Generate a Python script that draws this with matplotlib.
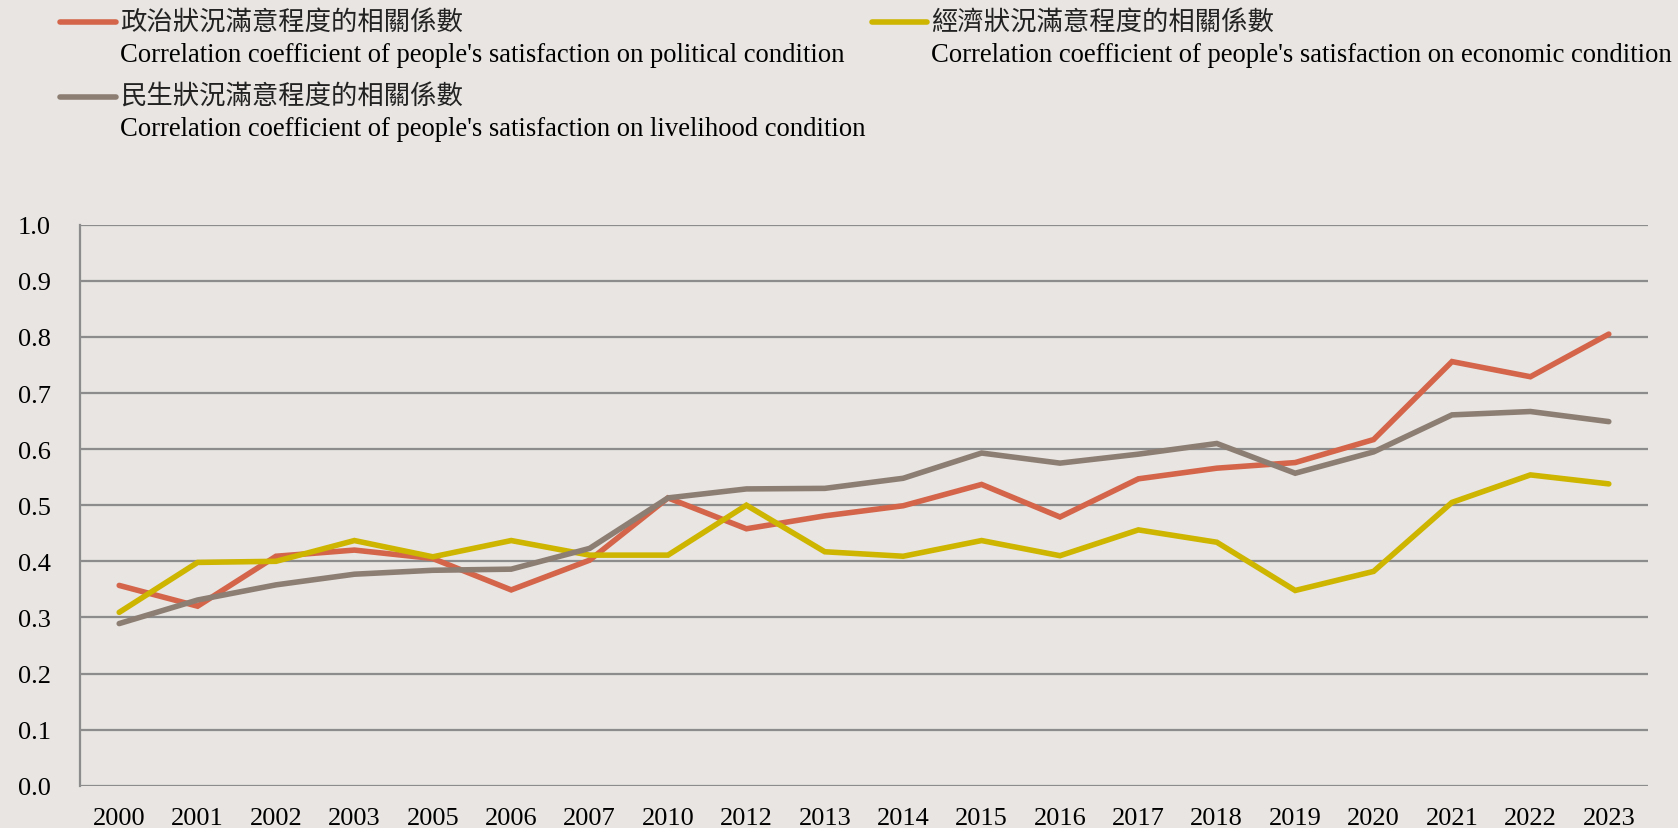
import matplotlib
matplotlib.use('Agg')
import matplotlib.pyplot as plt
from matplotlib.lines import Line2D

# data
years = ['2000', '2001', '2002', '2003', '2005', '2006', '2007', '2010', '2012', '2013',
         '2014', '2015', '2016', '2017', '2018', '2019', '2020', '2021', '2022', '2023']
political = [0.357, 0.320, 0.409, 0.420, 0.405, 0.349, 0.402, 0.513, 0.458, 0.481,
             0.499, 0.537, 0.479, 0.547, 0.566, 0.576, 0.617, 0.756, 0.729, 0.805]
economic = [0.309, 0.398, 0.400, 0.437, 0.408, 0.437, 0.411, 0.411, 0.500, 0.417,
            0.409, 0.437, 0.410, 0.456, 0.434, 0.348, 0.382, 0.505, 0.554, 0.538]
livelihood = [0.289, 0.331, 0.358, 0.377, 0.384, 0.386, 0.423, 0.513, 0.529, 0.530,
              0.548, 0.593, 0.575, 0.591, 0.610, 0.557, 0.595, 0.661, 0.667, 0.649]

labels_zh = ['政治狀況滿意程度的相關係數', '經濟狀況滿意程度的相關係數', '民生狀況滿意程度的相關係數']
labels_en = ["Correlation coefficient of people's satisfaction on political condition",
             "Correlation coefficient of people's satisfaction on economic condition",
             "Correlation coefficient of people's satisfaction on livelihood condition"]

colors = ['#D4654A', '#CDB500', '#8D7E73']
bg = '#E8E5E2'
grid_col = '#8C8C8C'

W, H = 1678, 829
fig = plt.figure(figsize=(W / 100, H / 100), dpi=100, facecolor=bg)
ax = fig.add_axes([80 / W, 1 - 786.7 / H, (1648 - 80) / W, (786.7 - 225.7) / H])
ax.set_facecolor(bg)

x = list(range(len(years)))
for vals, c in zip([political, economic, livelihood], colors):
    ax.plot(x, vals, color=c, lw=4.0, solid_capstyle='round', solid_joinstyle='miter', zorder=3)

ax.set_xlim(-0.5, len(years) - 0.5)
ax.set_ylim(0, 1.0)
ax.set_yticks([i / 10 for i in range(11)])
ax.set_yticklabels(['%.1f' % (i / 10) for i in range(11)])
ax.set_xticks(x)
ax.set_xticklabels(years)
ax.yaxis.grid(True, color=grid_col, lw=1.6)
ax.set_axisbelow(True)
for s in ['top', 'right', 'bottom']:
    ax.spines[s].set_visible(False)
ax.spines['left'].set_color(grid_col)
ax.spines['left'].set_linewidth(1.6)
ax.tick_params(length=0, labelsize=19, labelcolor='black')
ax.tick_params(axis='y', pad=21)
ax.tick_params(axis='x', pad=15)
for t in ax.get_xticklabels() + ax.get_yticklabels():
    t.set_fontfamily('Liberation Serif')

# legend drawn by hand, two lines of text per entry
legend_pos = [(60, 116, 23, 56), (872, 927, 23, 56), (60, 116, 97.5, 130)]
for (x0, x1, yz, ye), c, zh, en in zip(legend_pos, colors, labels_zh, labels_en):
    fig.add_artist(Line2D([x0 / W, x1 / W], [1 - yz / H, 1 - yz / H], color=c, lw=4.0,
                          solid_capstyle='round', transform=fig.transFigure))
    fig.text((x1 + 4) / W, 1 - yz / H, zh, family=['Noto Sans CJK TC', 'DejaVu Sans'],
             fontsize=19, va='center', ha='left', color='#222222', fontweight='light')
    fig.text((x1 + 4) / W, 1 - ye / H, en, family='Liberation Serif',
             fontsize=19.2, va='center', ha='left', color='black')

fig.savefig('out.png', dpi=100, facecolor=bg)
